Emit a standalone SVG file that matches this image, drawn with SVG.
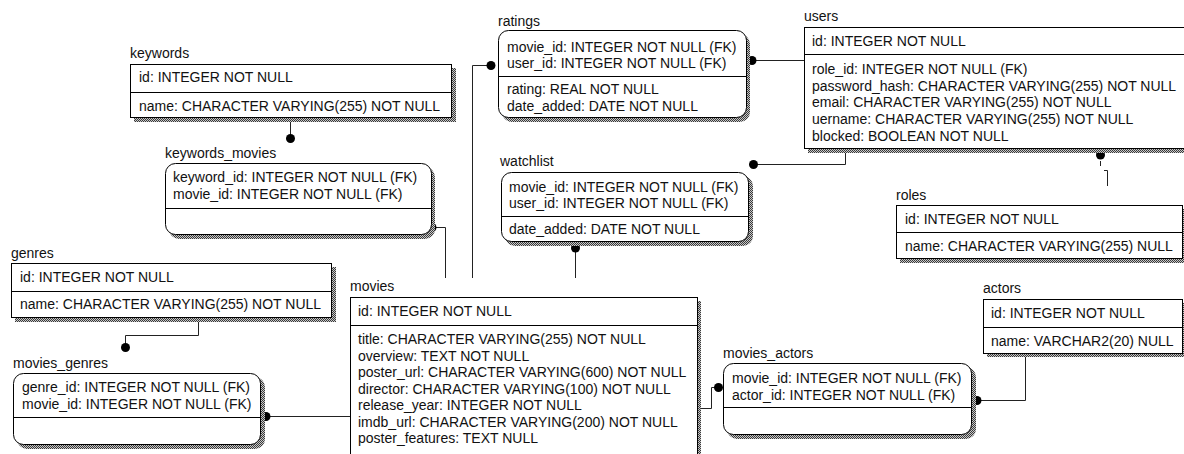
<svg xmlns="http://www.w3.org/2000/svg" width="1184" height="454" viewBox="0 0 1184 454">
  <defs>
    <!-- dithered drop shadow -->
    <pattern id="dither" width="2" height="2" patternUnits="userSpaceOnUse">
      <rect width="2" height="2" fill="#c8c8c8"/>
      <rect width="1" height="1" fill="#3a3a3a"/>
      <rect x="1" y="1" width="1" height="1" fill="#3a3a3a"/>
    </pattern>
  </defs>
  <style>
    text { font-family: "Liberation Sans", Arial, sans-serif; font-size: 14px; fill: #111; }
    .box { fill: #fff; stroke: #000; stroke-width: 1; }
    .shadow { fill: url(#dither); }
    .div { stroke: #000; stroke-width: 1; }
    .conn { fill: none; stroke: #222; stroke-width: 1; }
    .dot { fill: #000; }
  </style>
  <rect width="1184" height="454" fill="#fff"/>

  <!-- relationship lines -->
  <g id="connectors">
    <!-- keywords -> keywords_movies -->
    <path class="conn" d="M290.5 118 V138"/>
    <circle class="dot" cx="290.5" cy="138.5" r="4.5"/>
    <!-- keywords_movies -> movies -->
    <path class="conn" d="M432 227.5 H445.5 V278"/>
    <circle class="dot" cx="432" cy="227.5" r="4.5"/>
    <!-- ratings -> movies -->
    <path class="conn" d="M491 65.5 H472.5 V278"/>
    <circle class="dot" cx="491" cy="65.5" r="4.5"/>
    <!-- ratings -> users -->
    <path class="conn" d="M752 60.5 H804"/>
    <circle class="dot" cx="752" cy="60.5" r="4.5"/>
    <!-- watchlist -> users -->
    <path class="conn" d="M753.5 164.5 H845.5 V149"/>
    <circle class="dot" cx="753.5" cy="164.5" r="4.5"/>
    <!-- watchlist -> movies -->
    <path class="conn" d="M575.5 248 V278"/>
    <circle class="dot" cx="575.5" cy="248" r="4.5"/>
    <!-- users -> roles -->
    <circle class="dot" cx="1100.5" cy="155" r="4.5"/>
    <path class="conn" d="M1100.5 161 V166" stroke="#777"/>
    <path class="conn" d="M1104 170.5 H1107.5 V186"/>
    <!-- genres -> movies_genres -->
    <path class="conn" d="M198.5 318 V335.5 H125.5 V347"/>
    <circle class="dot" cx="125.5" cy="347.5" r="4.5"/>
    <!-- movies_genres -> movies -->
    <path class="conn" d="M266 416.5 H350"/>
    <circle class="dot" cx="266" cy="416.5" r="4.5"/>
    <!-- movies -> movies_actors -->
    <path class="conn" d="M701 408.5 H711.5 V387.5 H718"/>
    <circle class="dot" cx="718.5" cy="387.5" r="4.5"/>
    <!-- movies_actors -> actors -->
    <path class="conn" d="M977 400.5 H1025.5 V354"/>
    <circle class="dot" cx="977" cy="400.5" r="4.5"/>
  </g>

  <g id="keywords">
    <rect class="shadow" x="134" y="68" width="322" height="54"/>
    <rect class="box" x="130.5" y="64.5" width="321" height="53"/>
    <line class="div" x1="130.5" y1="92.5" x2="451.5" y2="92.5"/>
    <text x="130" y="58">keywords</text>
    <text x="139" y="82">id: INTEGER NOT NULL</text>
    <text x="139" y="111">name: CHARACTER VARYING(255) NOT NULL</text>
  </g>

  <g id="keywords_movies">
    <rect class="shadow" x="169" y="167" width="266" height="72" rx="10"/>
    <rect class="box" x="165.5" y="163.5" width="266" height="71" rx="10"/>
    <line class="div" x1="165.5" y1="208.5" x2="431.5" y2="208.5"/>
    <text x="165" y="158">keywords_movies</text>
    <text x="173" y="182">keyword_id: INTEGER NOT NULL (FK)</text>
    <text x="173" y="199">movie_id: INTEGER NOT NULL (FK)</text>
  </g>

  <g id="ratings">
    <rect class="shadow" x="502" y="34" width="248" height="88" rx="10"/>
    <rect class="box" x="498.5" y="30.5" width="248" height="87" rx="10"/>
    <line class="div" x1="498.5" y1="76.5" x2="746.5" y2="76.5"/>
    <text x="498" y="26">ratings</text>
    <text x="507" y="52">movie_id: INTEGER NOT NULL (FK)</text>
    <text x="507" y="68">user_id: INTEGER NOT NULL (FK)</text>
    <text x="507" y="94">rating: REAL NOT NULL</text>
    <text x="507" y="111">date_added: DATE NOT NULL</text>
  </g>

  <g id="users">
    <rect class="shadow" x="808" y="31" width="390" height="122"/>
    <rect class="box" x="804.5" y="27.5" width="390" height="121"/>
    <line class="div" x1="804.5" y1="54.5" x2="1194" y2="54.5"/>
    <text x="804" y="21">users</text>
    <text x="812" y="46">id: INTEGER NOT NULL</text>
    <text x="812" y="74">role_id: INTEGER NOT NULL (FK)</text>
    <text x="812" y="91">password_hash: CHARACTER VARYING(255) NOT NULL</text>
    <text x="812" y="107">email: CHARACTER VARYING(255) NOT NULL</text>
    <text x="812" y="124">uername: CHARACTER VARYING(255) NOT NULL</text>
    <text x="812" y="141">blocked: BOOLEAN NOT NULL</text>
  </g>

  <g id="watchlist">
    <rect class="shadow" x="505" y="176" width="248" height="70" rx="10"/>
    <rect class="box" x="501.5" y="172.5" width="247" height="69" rx="10"/>
    <line class="div" x1="501.5" y1="216.5" x2="748.5" y2="216.5"/>
    <text x="500" y="166">watchlist</text>
    <text x="509" y="192">movie_id: INTEGER NOT NULL (FK)</text>
    <text x="509" y="208">user_id: INTEGER NOT NULL (FK)</text>
    <text x="509" y="234">date_added: DATE NOT NULL</text>
  </g>

  <g id="roles">
    <rect class="shadow" x="900" y="209" width="287" height="54"/>
    <rect class="box" x="896.5" y="205.5" width="286" height="53"/>
    <line class="div" x1="896.5" y1="232.5" x2="1182.5" y2="232.5"/>
    <text x="896" y="200">roles</text>
    <text x="905" y="224">id: INTEGER NOT NULL</text>
    <text x="905" y="251">name: CHARACTER VARYING(255) NULL</text>
  </g>

  <g id="genres">
    <rect class="shadow" x="15" y="267" width="321" height="55"/>
    <rect class="box" x="11.5" y="263.5" width="320" height="54"/>
    <line class="div" x1="11.5" y1="291.5" x2="331.5" y2="291.5"/>
    <text x="11" y="258">genres</text>
    <text x="20" y="282">id: INTEGER NOT NULL</text>
    <text x="20" y="309">name: CHARACTER VARYING(255) NOT NULL</text>
  </g>

  <g id="movies_genres">
    <rect class="shadow" x="17" y="377" width="248" height="72" rx="10"/>
    <rect class="box" x="13.5" y="373.5" width="247" height="71" rx="10"/>
    <line class="div" x1="13.5" y1="417.5" x2="260.5" y2="417.5"/>
    <text x="13" y="368">movies_genres</text>
    <text x="22" y="392">genre_id: INTEGER NOT NULL (FK)</text>
    <text x="22" y="409">movie_id: INTEGER NOT NULL (FK)</text>
  </g>

  <g id="movies">
    <rect class="shadow" x="354" y="301" width="347" height="170"/>
    <rect class="box" x="350.5" y="297.5" width="347" height="170"/>
    <line class="div" x1="350.5" y1="325.5" x2="697.5" y2="325.5"/>
    <text x="350" y="291">movies</text>
    <text x="358" y="316">id: INTEGER NOT NULL</text>
    <text x="358" y="344">title: CHARACTER VARYING(255) NOT NULL</text>
    <text x="358" y="360.5">overview: TEXT NOT NULL</text>
    <text x="358" y="377">poster_url: CHARACTER VARYING(600) NOT NULL</text>
    <text x="358" y="393.5">director: CHARACTER VARYING(100) NOT NULL</text>
    <text x="358" y="410">release_year: INTEGER NOT NULL</text>
    <text x="358" y="426.5">imdb_url: CHARACTER VARYING(200) NOT NULL</text>
    <text x="358" y="443">poster_features: TEXT NULL</text>
  </g>

  <g id="movies_actors">
    <rect class="shadow" x="727" y="367" width="249" height="72" rx="10"/>
    <rect class="box" x="723.5" y="363.5" width="248" height="71" rx="10"/>
    <line class="div" x1="723.5" y1="407.5" x2="971.5" y2="407.5"/>
    <text x="723" y="358">movies_actors</text>
    <text x="732" y="383">movie_id: INTEGER NOT NULL (FK)</text>
    <text x="732" y="400">actor_id: INTEGER NOT NULL (FK)</text>
  </g>

  <g id="actors">
    <rect class="shadow" x="987" y="303" width="200" height="54"/>
    <rect class="box" x="983.5" y="299.5" width="199" height="54"/>
    <line class="div" x1="983.5" y1="327.5" x2="1182.5" y2="327.5"/>
    <text x="983" y="293">actors</text>
    <text x="991" y="318">id: INTEGER NOT NULL</text>
    <text x="991" y="346">name: VARCHAR2(20) NULL</text>
  </g>
</svg>
